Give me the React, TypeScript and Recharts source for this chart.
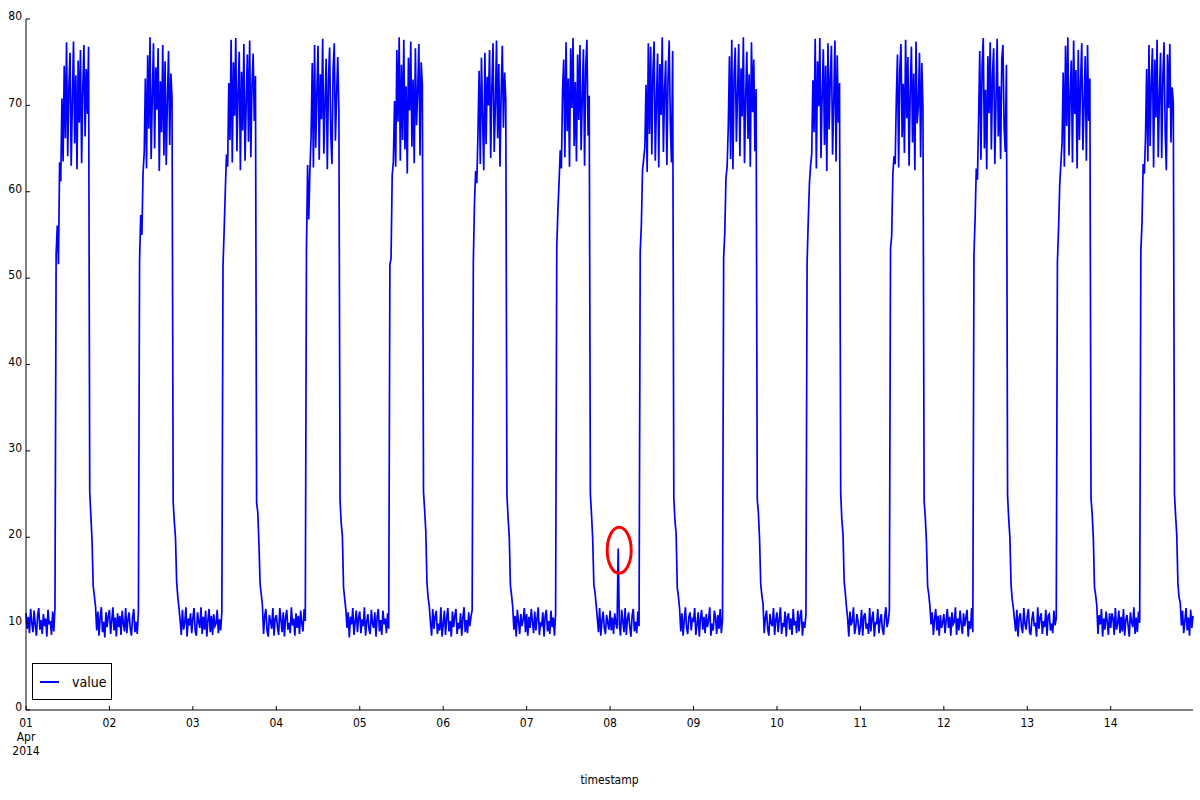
import React from 'react';
import { LineChart, Line, XAxis, YAxis, Legend, ReferenceDot, Label } from 'recharts';

// One reading every 20 minutes, 72 readings per day (00:00 .. 23:40)
const day01 = [11.2, 9.4, 10.8, 8.9, 11.7, 10.1, 9.0, 11.5, 9.8, 8.6, 10.9, 11.8, 9.3, 10.4, 8.8, 11.1, 9.7, 10.6, 8.5, 11.6, 9.9, 10.3, 8.7, 11.4, 9.1, 11.9,
  52.8, 56.1, 51.6, 63.4,
  61.2, 70.8, 63.5, 74.6, 66.2, 77.3, 64.1, 72.0, 76.1, 63.0, 70.4, 77.4, 65.6, 73.5, 62.6, 75.2, 68.0, 76.4, 63.3, 71.8, 77.0, 66.4, 74.2, 69.0, 76.8,
  25.2, 22.4, 19.6, 14.3, 13.2, 12.0,
  9.2, 11.4, 8.6, 10.7, 11.9, 9.0, 10.2, 8.4, 11.3, 9.6, 10.9];
const day02 = [11.6, 8.8, 10.3, 11.9, 9.2, 10.7, 8.5, 11.2, 9.6, 10.9, 8.7, 11.5, 10.0, 9.1, 11.8, 8.9, 10.5, 11.3, 9.4, 8.6, 10.8, 11.7, 9.0, 10.2, 8.8, 11.4,
  52.1, 57.3, 55.0, 62.2,
  64.5, 73.1, 62.7, 75.8, 67.3, 77.9, 63.8, 71.2, 77.2, 65.0, 74.4, 69.5, 76.6, 62.4, 72.8, 66.9, 77.0, 64.2, 75.1, 63.1, 70.6, 76.3, 65.4, 73.7, 70.9,
  24.1, 21.8, 19.9, 14.8, 13.1, 11.8,
  10.4, 8.7, 11.6, 9.3, 10.1, 11.9, 8.5, 10.6, 9.8, 11.2, 8.9];
const day03 = [10.6, 11.8, 9.1, 8.6, 11.3, 10.2, 9.5, 11.9, 8.8, 10.8, 9.3, 11.5, 8.5, 10.4, 11.7, 9.0, 10.9, 8.7, 11.1, 9.7, 10.0, 11.6, 8.9, 10.5, 9.2, 11.4,
  51.4, 55.6, 60.2, 64.3,
  62.9, 72.6, 66.0, 77.6, 63.4, 75.0, 68.8, 77.8, 64.7, 71.4, 76.2, 62.5, 73.9, 67.1, 77.1, 63.6, 70.2, 75.9, 65.8, 77.5, 64.0, 72.3, 76.0, 68.2, 73.4,
  24.0, 22.9, 19.3, 14.6, 13.4, 12.1,
  8.8, 10.9, 11.7, 9.2, 8.5, 11.0, 10.3, 9.4, 11.8, 8.6, 10.6];
const day04 = [11.0, 9.6, 8.7, 11.8, 10.4, 9.0, 11.3, 8.5, 10.7, 11.6, 9.3, 10.1, 8.9, 11.9, 9.8, 10.6, 8.6, 11.2, 9.5, 10.9, 8.8, 11.5, 10.0, 9.1, 11.7, 10.3,
  53.2, 63.1, 56.8, 62.6,
  66.3, 74.9, 62.8, 77.0, 65.1, 71.5, 76.9, 63.7, 73.6, 68.4, 77.7, 64.4, 70.1, 75.4, 62.6, 72.9, 76.7, 66.6, 63.2, 74.1, 77.2, 65.9, 71.0, 75.6, 69.3,
  24.3, 21.6, 20.2, 14.2, 12.9, 11.6,
  9.5, 11.3, 8.4, 10.8, 9.9, 11.8, 8.7, 10.2, 11.5, 9.0, 10.7];
const day05 = [11.4, 8.9, 10.5, 9.7, 11.9, 8.6, 10.2, 11.1, 9.3, 8.8, 11.6, 10.0, 9.5, 11.3, 8.5, 10.8, 11.7, 9.1, 10.4, 8.7, 11.5, 9.9, 10.6, 8.9, 11.2, 9.4,
  51.5, 52.3, 61.9, 63.5,
  70.5, 62.9, 76.4, 68.1, 77.9, 63.6, 74.7, 66.0, 77.6, 64.9, 72.2, 62.1, 75.5, 69.4, 77.4, 65.2, 73.0, 63.3, 76.6, 67.7, 71.6, 77.1, 64.2, 75.0, 72.4,
  25.3, 23.1, 20.6, 14.7, 13.0, 12.0,
  10.1, 8.6, 11.7, 9.4, 10.8, 11.5, 8.8, 10.0, 9.2, 11.9, 8.5];
const day06 = [9.9, 11.5, 8.7, 10.6, 11.8, 9.1, 10.3, 8.5, 11.4, 9.6, 10.9, 11.7, 8.8, 10.1, 9.4, 11.2, 8.6, 10.7, 11.9, 9.0, 10.4, 8.9, 11.3, 9.7, 10.8, 11.6,
  52.0, 58.7, 62.4, 61.0,
  66.8, 74.0, 63.2, 75.5, 68.6, 62.5, 76.1, 65.5, 73.3, 70.0, 76.4, 63.9, 72.1, 77.2, 64.6, 69.8, 77.5, 66.2, 74.8, 62.9, 71.3, 76.9, 67.4, 73.8, 70.6,
  24.9, 22.2, 20.1, 14.4, 13.3, 11.9,
  9.3, 10.9, 8.5, 11.6, 10.2, 8.8, 11.1, 9.7, 10.5, 11.8, 9.0];
const day07 = [11.1, 8.6, 10.8, 9.5, 11.7, 10.2, 8.9, 11.4, 9.2, 10.6, 11.9, 8.7, 10.0, 9.8, 11.3, 8.5, 10.9, 11.6, 9.1, 10.3, 8.8, 11.5, 9.6, 10.7, 8.6, 11.2,
  53.6, 57.9, 61.2, 64.8,
  62.7, 71.9, 75.3, 64.0, 77.3, 67.0, 73.1, 62.9, 76.6, 69.7, 77.8, 65.3, 72.7, 63.5, 75.9, 68.3, 77.0, 64.8, 70.9, 76.5, 63.0, 74.5, 77.6, 66.5, 71.1,
  25.0, 22.6, 19.8, 14.5, 13.6, 12.2,
  10.6, 9.0, 11.8, 8.6, 10.3, 11.4, 9.5, 8.8, 11.0, 10.1, 9.3];
const day08 = [11.5, 9.2, 10.7, 8.8, 11.2, 10.0, 9.4, 18.7, 9.9, 8.6, 11.6, 10.3, 9.0, 11.8, 8.7, 10.5, 11.3, 9.6, 8.5, 10.9, 11.7, 9.1, 10.2, 8.9, 11.4, 9.7,
  53.0, 56.2, 62.5, 63.8,
  65.1, 72.4, 62.3, 77.2, 66.7, 76.8, 64.3, 73.9, 77.4, 63.6, 70.3, 76.0, 62.8, 74.8, 68.9, 77.9, 64.6, 71.7, 75.2, 63.1, 73.0, 77.5, 67.8, 63.4, 76.3,
  24.6, 21.9, 20.4, 14.1, 13.1, 11.7,
  9.1, 11.2, 8.6, 10.4, 11.9, 9.5, 8.8, 10.8, 11.3, 9.2, 10.5];
const day09 = [10.2, 11.8, 8.7, 9.9, 11.3, 8.5, 10.6, 11.6, 9.3, 10.8, 8.9, 11.1, 9.6, 10.4, 11.9, 8.6, 10.0, 9.2, 11.5, 10.7, 8.8, 11.0, 9.4, 11.7, 8.9, 10.5,
  52.4, 55.3, 61.6, 62.9,
  67.5, 75.7, 63.8, 77.6, 62.6, 73.4, 76.7, 65.8, 71.5, 77.1, 64.1, 74.3, 68.7, 77.9, 63.3, 70.8, 76.2, 66.1, 73.6, 62.9, 77.3, 69.2, 75.3, 64.7, 71.9,
  24.4, 22.8, 19.7, 14.6, 13.2, 12.3,
  8.9, 10.7, 11.5, 9.4, 8.6, 11.1, 10.0, 9.7, 11.8, 8.7, 10.4];
const day10 = [11.3, 9.0, 10.5, 11.9, 8.8, 10.1, 9.6, 11.4, 8.5, 10.8, 11.2, 9.3, 10.6, 8.7, 11.7, 9.8, 10.3, 8.9, 11.5, 9.1, 10.9, 11.6, 8.6, 10.2, 9.5, 11.0,
  51.8, 56.6, 60.9, 63.0,
  64.4, 72.9, 66.9, 77.7, 62.7, 75.1, 69.9, 77.8, 63.9, 71.2, 76.5, 65.4, 74.6, 62.4, 77.2, 67.2, 73.2, 76.9, 64.3, 70.4, 77.5, 63.5, 75.8, 68.0, 72.6,
  25.1, 22.0, 20.3, 14.9, 13.5, 11.9,
  10.6, 8.5, 11.4, 9.8, 10.3, 11.9, 8.8, 9.6, 11.1, 10.2, 8.7];
const day11 = [9.7, 11.6, 8.6, 10.9, 11.2, 9.4, 10.0, 8.8, 11.8, 9.1, 10.6, 11.4, 8.5, 10.2, 9.9, 11.7, 8.9, 10.4, 11.1, 9.3, 8.7, 10.8, 11.9, 9.6, 10.3, 11.5,
  53.4, 54.9, 62.0, 64.1,
  63.2, 70.7, 75.9, 62.8, 74.0, 77.1, 66.3, 72.5, 64.5, 77.6, 68.5, 75.6, 63.0, 71.6, 76.8, 65.7, 73.7, 62.5, 77.4, 67.9, 70.0, 76.1, 64.0, 74.9, 69.6,
  24.2, 22.3, 19.5, 14.3, 13.4, 12.0,
  9.9, 11.3, 8.7, 10.5, 11.7, 9.2, 10.9, 8.6, 11.0, 9.5, 10.1];
const day12 = [11.1, 8.9, 10.4, 11.7, 9.5, 10.8, 8.6, 11.3, 9.9, 10.2, 11.9, 8.7, 10.6, 9.2, 11.5, 10.0, 8.8, 11.2, 9.7, 10.7, 11.6, 8.5, 10.3, 9.4, 11.8, 9.0,
  52.6, 57.0, 62.7, 61.4,
  68.4, 76.3, 63.7, 74.4, 77.8, 65.0, 71.8, 62.6, 75.7, 69.1, 77.3, 64.9, 73.5, 76.6, 63.2, 70.5, 77.7, 66.4, 72.2, 63.8, 75.4, 77.0, 67.6, 64.6, 74.7,
  24.8, 22.1, 20.0, 14.5, 12.8, 11.8,
  10.4, 9.1, 11.6, 8.5, 10.7, 11.2, 9.6, 8.9, 11.8, 10.0, 9.3];
const day13 = [10.9, 11.7, 9.0, 8.7, 10.5, 11.4, 9.7, 10.1, 8.5, 11.9, 9.4, 10.7, 11.2, 8.8, 10.3, 9.6, 11.6, 8.6, 10.9, 11.1, 9.2, 10.0, 8.9, 11.5, 9.8, 10.6,
  51.9, 55.7, 60.8, 63.3,
  65.6, 73.8, 62.9, 76.9, 67.6, 77.9, 64.2, 71.3, 75.2, 63.4, 77.5, 69.0, 74.1, 62.7, 76.4, 66.0, 72.7, 77.2, 64.8, 70.2, 75.7, 63.6, 77.0, 68.2, 73.1,
  24.5, 22.7, 19.9, 14.2, 13.3, 12.1,
  8.8, 11.0, 9.9, 11.7, 8.5, 10.6, 9.3, 11.4, 10.2, 8.7, 11.2];
const day14 = [9.5, 11.2, 10.6, 8.7, 11.8, 9.3, 10.0, 11.5, 8.9, 10.8, 9.1, 11.7, 8.6, 10.4, 11.0, 9.8, 8.5, 11.3, 10.2, 9.6, 11.9, 8.8, 10.7, 9.0, 11.4, 10.1,
  53.1, 56.4, 63.2, 62.1,
  66.2, 74.2, 63.5, 77.0, 65.3, 72.8, 76.6, 62.8, 75.3, 68.6, 77.6, 64.0, 71.0, 76.1, 63.9, 73.3, 77.3, 67.0, 62.5, 75.9, 69.7, 77.1, 65.7, 72.1, 70.3,
  25.0, 22.5, 20.2, 14.6, 13.0, 12.4,
  9.8, 11.5, 8.9, 10.3, 11.8, 9.2, 10.7, 8.6, 11.6, 9.5, 10.9];

const DAYS = [day01, day02, day03, day04, day05, day06, day07, day08, day09, day10, day11, day12, day13, day14];
const SLOT_MINUTES = 20;
const MINUTES_PER_DAY = 1440;
const DAY_TICK_LABELS = ['01', '02', '03', '04', '05', '06', '07', '08', '09', '10', '11', '12', '13', '14'];
const MONTH_LABEL = 'Apr';
const YEAR_LABEL = '2014';
const Y_TICKS = [0, 10, 20, 30, 40, 50, 60, 70, 80];
const SERIES_NAME = 'value';
const X_LABEL = 'timestamp';
// Annotated anomaly: 8 Apr, 02:20, short spike in the low band
const ANOMALY_TIME = 7 * MINUTES_PER_DAY + 7 * SLOT_MINUTES;
const ANOMALY_LEVEL = 18.5;

const data = DAYS.flatMap((vals, d) =>
  vals.map((v, i) => ({ t: d * MINUTES_PER_DAY + i * SLOT_MINUTES, value: v }))
);
const X_MAX = data[data.length - 1].t;
const X_TICKS = DAY_TICK_LABELS.map((_, i) => i * MINUTES_PER_DAY);

const FONT = "'DejaVu Sans Condensed', 'DejaVu Sans', sans-serif";

const XTick = (props: any) => {
  const { x, y, payload } = props;
  const idx = Math.round(payload.value / MINUTES_PER_DAY);
  const lines = idx === 0 ? [DAY_TICK_LABELS[0], MONTH_LABEL, YEAR_LABEL] : [DAY_TICK_LABELS[idx]];
  return (
    <text x={x} y={y} textAnchor="middle" fill="#000" fontSize={12} fontFamily={FONT} style={{ fontStretch: 'condensed' }}>
      {lines.map((l, i) => (
        <tspan key={i} x={x} dy={i === 0 ? '0.71em' : '1.2em'}>{l}</tspan>
      ))}
    </text>
  );
};

const YTick = (props: any) => {
  const { x, y, payload } = props;
  return (
    <text x={x} y={y} textAnchor="end" fill="#000" fontSize={12} fontFamily={FONT} style={{ fontStretch: 'condensed' }} dy="0.1em">
      {payload.value}
    </text>
  );
};

const EmptyTick = () => <g />;

const LegendBox = (props: any) => {
  const item = props.payload && props.payload[0];
  return (
    <div style={{ boxSizing: 'border-box', width: 80, height: 37, border: '1px solid #000', background: '#fff', display: 'flex', alignItems: 'center', fontFamily: FONT, fontStretch: 'condensed', fontSize: 14, color: '#000' }}>
      <span style={{ display: 'inline-block', width: 19, height: 0, borderTop: `2px solid ${item ? item.color : '#0000ff'}`, marginLeft: 7 }} />
      <span style={{ marginLeft: 13 }}>{item ? item.value : SERIES_NAME}</span>
    </div>
  );
};

const AnomalyRing = (p: any) => (
  <ellipse cx={p.cx + 1} cy={p.cy} rx={12} ry={23} fill="none" stroke="#ff0000" strokeWidth={3} />
);

export default function App() {
  return (
    <div style={{ position: 'absolute', left: 0, top: 0, width: 1200, height: 800, background: '#fff' }}>
      <LineChart width={1200} height={800} data={data} margin={{ top: 19, right: 7, bottom: 30, left: 0 }}>
        <XAxis dataKey="t" type="number" domain={[0, X_MAX]} ticks={X_TICKS} interval={0} tick={<XTick />}
          tickSize={-4} tickMargin={12} height={60} axisLine={{ stroke: '#000' }} tickLine={{ stroke: '#000' }}>
          <Label value={X_LABEL} position="bottom" offset={5} style={{ fill: '#000', fontSize: 12, fontFamily: FONT, fontStretch: 'condensed' }} />
        </XAxis>
        <XAxis xAxisId="top" orientation="top" dataKey="t" type="number" domain={[0, X_MAX]} ticks={X_TICKS} interval={0}
          tick={EmptyTick} tickSize={-4} height={0} axisLine={{ stroke: '#000' }} tickLine={{ stroke: '#000' }} />
        <YAxis type="number" domain={[0, 80]} ticks={Y_TICKS} interval={0} width={26} tickSize={-4} tickMargin={8}
          tick={<YTick />} axisLine={{ stroke: '#000' }} tickLine={{ stroke: '#000' }} />
        <YAxis yAxisId="right" orientation="right" type="number" domain={[0, 80]} ticks={Y_TICKS} interval={0} width={0}
          tickSize={-4} tick={EmptyTick} axisLine={{ stroke: '#000' }} tickLine={{ stroke: '#000' }} />
        <Legend layout="vertical" align="center" verticalAlign="middle" content={LegendBox}
          wrapperStyle={{ left: 32, top: 663, width: 80, height: 37 }} />
        <Line dataKey="value" name={SERIES_NAME} type="linear" stroke="#0000ff" strokeWidth={1.7} dot={false}
          activeDot={false} isAnimationActive={false} />
        <ReferenceDot x={ANOMALY_TIME} y={ANOMALY_LEVEL} r={0} shape={AnomalyRing} ifOverflow="visible" />
      </LineChart>
    </div>
  );
}
